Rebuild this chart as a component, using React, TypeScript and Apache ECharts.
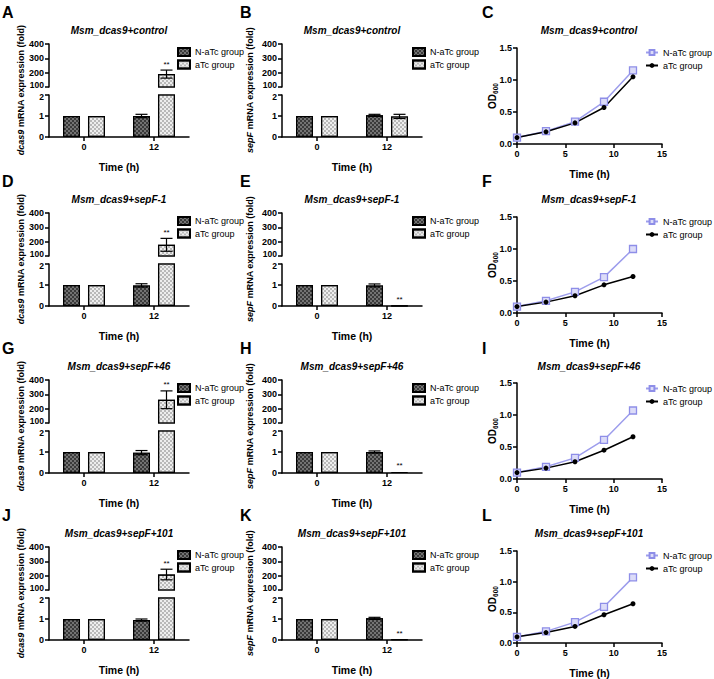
import React, { useEffect, useRef } from 'react';
import * as echarts from 'echarts';

const FONT = '"Liberation Sans", Arial, Helvetica, sans-serif';

const panelLetters = ['A', 'B', 'C', 'D', 'E', 'F', 'G', 'H', 'I', 'J', 'K', 'L'];
const strainTitles = ['Msm_dcas9+control', 'Msm_dcas9+sepF-1', 'Msm_dcas9+sepF+46', 'Msm_dcas9+sepF+101'];
const barCategories = ['0', '12'];
const groupNames = ['N-aTc group', 'aTc group'];
const geneNames = ['dcas9', 'sepF'];

// dcas9 mRNA expression (fold): [t=0, t=12] per strain
const dcas9NaTc = [[1, 1.0], [1, 0.98], [1, 0.97], [1, 0.95]];
const dcas9NaTcSd = [[0, 0.08], [0, 0.08], [0, 0.1], [0, 0.05]];
const dcas9ATc = [[1, 190], [1, 178], [1, 262], [1, 208]];
const dcas9ATcSd = [[0, 28], [0, 45], [0, 62], [0, 37]];
const dcas9Sig = [[false, true], [false, true], [false, true], [false, true]];

// sepF mRNA expression (fold)
const sepFNaTc = [[1, 1.03], [1, 0.98], [1, 1.0], [1, 1.03]];
const sepFNaTcSd = [[0, 0.05], [0, 0.07], [0, 0.05], [0, 0.05]];
const sepFATc = [[1, 0.98], [1, 0.02], [1, 0.05], [1, 0.03]];
const sepFATcSd = [[0, 0.1], [0, 0], [0, 0], [0, 0]];
const sepFSig = [[false, false], [false, true], [false, true], [false, true]];

// OD600 growth curves
const odTimes = [0, 3, 6, 9, 12];
const odNaTc = [
  [0.1, 0.2, 0.35, 0.66, 1.15],
  [0.1, 0.19, 0.33, 0.56, 1.0],
  [0.1, 0.19, 0.33, 0.61, 1.07],
  [0.1, 0.19, 0.34, 0.59, 1.07],
];
const odATc = [
  [0.1, 0.19, 0.33, 0.57, 1.05],
  [0.1, 0.17, 0.27, 0.44, 0.57],
  [0.1, 0.17, 0.27, 0.45, 0.66],
  [0.1, 0.17, 0.27, 0.46, 0.64],
];

const upperTicks = { min: 100, max: 400, interval: 100 };
const lowerTicks = { min: 0, max: 2, interval: 1 };
const odXTicks = { min: 0, max: 15, interval: 5 };
const odYTicks = { min: 0, max: 1.5, interval: 0.5 };

function buildOption() {
  const rowOff = [0, 169, 336, 503];
  const barCols = [49, 282];
  const lineLeft = 517;
  const BAR_W = 17;
  const BAR_OFF = 12.5;

  const grid: any[] = [];
  const xAxis: any[] = [];
  const yAxis: any[] = [];
  const series: any[] = [];
  const legend: any[] = [];
  const graphic: any[] = [];

  const axisLine = { show: true, lineStyle: { color: '#000', width: 1.5 } };
  const axisTick = { show: true, length: 4, lineStyle: { color: '#000', width: 1.5 } };
  const axisLabel = { color: '#000', fontSize: 9, fontWeight: 'bold', fontFamily: FONT, margin: 5 };
  const nameStyle = { color: '#000', fontSize: 10.5, fontWeight: 'bold', fontFamily: FONT };
  const tickRich = {
    up: { color: '#000', fontSize: 8.5, fontWeight: 'bold', fontFamily: FONT, padding: [0, 0, 4, 0] },
    dn: { color: '#000', fontSize: 8.5, fontWeight: 'bold', fontFamily: FONT, padding: [4, 0, 0, 0] },
  };

  const barStyles = [
    {
      color: '#3a3a3a', borderColor: '#000', borderWidth: 1.2,
      decal: { symbol: 'rect', symbolSize: 1, color: 'rgba(140,140,140,0.7)', dashArrayX: [[2, 2], [0, 2, 2, 0]], dashArrayY: [2, 0], rotation: 0 },
    },
    {
      color: '#eeeeee', borderColor: '#000', borderWidth: 1.2,
      decal: { symbol: 'rect', symbolSize: 1, color: 'rgba(150,150,150,0.6)', dashArrayX: [[2, 2], [0, 2, 2, 0]], dashArrayY: [2, 0], rotation: 0 },
    },
  ];

  const errRender = (params: any, api: any) => {
    const cat = api.value(0);
    const mean = api.value(1);
    const sd = api.value(2);
    const g = api.value(3);
    const sig = api.value(4);
    const off = g === 0 ? -BAR_OFF : BAR_OFF;
    const top = api.coord([cat, mean + sd]);
    const bot = api.coord([cat, mean - sd]);
    const x = top[0] + off;
    const children: any[] = [];
    const ls = { stroke: '#000', lineWidth: 1.2 };
    if (sd > 0) {
      children.push({ type: 'line', shape: { x1: x, y1: top[1], x2: x, y2: bot[1] }, style: ls });
      children.push({ type: 'line', shape: { x1: x - 6, y1: top[1], x2: x + 6, y2: top[1] }, style: ls });
      children.push({ type: 'line', shape: { x1: x - 6, y1: bot[1], x2: x + 6, y2: bot[1] }, style: ls });
    }
    if (sig) {
      children.push({
        type: 'text',
        style: { text: '**', x, y: top[1] - 2, align: 'center', verticalAlign: 'bottom', fontSize: 8, fontFamily: FONT, fill: '#000' },
      });
    }
    return { type: 'group', children };
  };

  for (let r = 0; r < 4; r++) {
    const off = rowOff[r];
    for (let c = 0; c < 2; c++) {
      const left = barCols[c];
      const means = c === 0 ? [dcas9NaTc[r], dcas9ATc[r]] : [sepFNaTc[r], sepFATc[r]];
      const sds = c === 0 ? [dcas9NaTcSd[r], dcas9ATcSd[r]] : [sepFNaTcSd[r], sepFATcSd[r]];
      const sig = c === 0 ? dcas9Sig[r] : sepFSig[r];

      const gU = grid.length;
      grid.push({ left, top: off + 44, width: 140, height: 43 });
      const gL = grid.length;
      grid.push({ left, top: off + 95, width: 140, height: 42 });

      xAxis.push({ type: 'category', gridIndex: gU, data: barCategories, show: false });
      xAxis.push({
        type: 'category', gridIndex: gL, data: barCategories,
        axisLine, axisTick: { ...axisTick, alignWithLabel: true }, axisLabel,
        name: 'Time (h)', nameLocation: 'middle', nameGap: 24, nameTextStyle: nameStyle,
      });
      yAxis.push({
        type: 'value', gridIndex: gU, ...upperTicks,
        axisLine, axisTick,
        axisLabel: { ...axisLabel, formatter: (v: number) => (v === upperTicks.min ? '{up|' + v + '}' : String(v)), rich: tickRich },
        splitLine: { show: false },
      });
      yAxis.push({
        type: 'value', gridIndex: gL, ...lowerTicks,
        axisLine, axisTick,
        axisLabel: { ...axisLabel, formatter: (v: number) => (v === lowerTicks.max ? '{dn|' + v + '}' : String(v)), rich: tickRich },
        splitLine: { show: false },
      });

      for (let g = 0; g < 2; g++) {
        series.push({
          type: 'bar', name: groupNames[g], xAxisIndex: gU, yAxisIndex: gU,
          data: means[g].map((v) => (v > lowerTicks.max ? v : '-')),
          barWidth: BAR_W, barGap: '47%', itemStyle: barStyles[g], clip: true, silent: true,
        });
        series.push({
          type: 'bar', name: groupNames[g], xAxisIndex: gL, yAxisIndex: gL,
          data: means[g], barWidth: BAR_W, barGap: '47%', itemStyle: barStyles[g], clip: true, silent: true,
        });
      }

      const errU: any[] = [];
      const errL: any[] = [];
      for (let g = 0; g < 2; g++) {
        for (let k = 0; k < 2; k++) {
          const item = [k, means[g][k], sds[g][k], g, sig[k] && g === 1 ? 1 : 0];
          if (means[g][k] > lowerTicks.max) errU.push(item);
          else errL.push(item);
        }
      }
      series.push({ type: 'custom', xAxisIndex: gU, yAxisIndex: gU, data: errU, renderItem: errRender, z: 5, silent: true, encode: { x: 0, y: 1 } });
      series.push({ type: 'custom', xAxisIndex: gL, yAxisIndex: gL, data: errL, renderItem: errRender, z: 5, silent: true, encode: { x: 0, y: 1 } });

      legend.push({
        left: left + 128 + (c === 1 ? 2 : 0), top: off + 47, orient: 'vertical', icon: 'rect',
        itemWidth: 12, itemHeight: 8, itemGap: 2.5, padding: 0, selectedMode: false,
        data: groupNames,
        textStyle: { fontSize: 9, fontFamily: FONT, color: '#000' },
      });

      const idx = r * 3 + c;
      graphic.push({
        type: 'text', x: c === 0 ? 2 : 240, y: off + 12,
        style: { text: panelLetters[idx], fontSize: 16, fontWeight: 'bold', fontFamily: FONT, fill: '#000', verticalAlign: 'middle' },
      });
      graphic.push({
        type: 'text', x: left + 70, y: off + 30,
        style: { text: strainTitles[r], fontSize: 10, fontWeight: 'bold', fontStyle: 'italic', fontFamily: FONT, fill: '#000', align: 'center', verticalAlign: 'middle' },
      });
      graphic.push({
        type: 'text', x: c === 0 ? 21 : 250, y: off + 90, rotation: Math.PI / 2,
        style: {
          text: '{i|' + geneNames[c] + '}{b| mRNA expression (fold)}',
          align: 'center', verticalAlign: 'middle', fill: '#000',
          fontSize: 9, fontWeight: 'bold', fontFamily: FONT,
          rich: {
            i: { fontSize: 9, fontWeight: 'bold', fontStyle: 'italic', fontFamily: FONT, fill: '#000' },
            b: { fontSize: 9, fontWeight: 'bold', fontFamily: FONT, fill: '#000' },
          },
        },
      });
    }

    // growth curve panel
    const gi = grid.length;
    const lTop = off + 48 + (r === 2 ? -1 : 0);
    grid.push({ left: lineLeft, top: lTop, width: 145, height: 96 });
    xAxis.push({
      type: 'value', gridIndex: gi, ...odXTicks,
      axisLine, axisTick, axisLabel, splitLine: { show: false },
      name: 'Time (h)', nameLocation: 'middle', nameGap: 24, nameTextStyle: nameStyle,
    });
    yAxis.push({
      type: 'value', gridIndex: gi, ...odYTicks,
      axisLine, axisTick, axisLabel: { ...axisLabel, formatter: (v: number) => v.toFixed(1) }, splitLine: { show: false },
    });
    series.push({
      type: 'line', name: 'odN', xAxisIndex: gi, yAxisIndex: gi, silent: true,
      data: odTimes.map((t, i) => [t, odNaTc[r][i]]),
      symbol: 'rect', symbolSize: 7,
      itemStyle: { color: '#dcdcf8', borderColor: '#8e8ee8', borderWidth: 1.3 },
      lineStyle: { color: '#9d9dec', width: 1.5 },
    });
    series.push({
      type: 'line', name: 'odA', xAxisIndex: gi, yAxisIndex: gi, silent: true,
      data: odTimes.map((t, i) => [t, odATc[r][i]]),
      symbol: 'circle', symbolSize: 5,
      itemStyle: { color: '#000' },
      lineStyle: { color: '#000', width: 1.5 },
    });
    legend.push({
      left: 645, top: off + 48, orient: 'vertical',
      itemWidth: 12, itemHeight: 6, itemGap: 4, padding: 0, selectedMode: false,
      data: ['odN', 'odA'],
      formatter: (n: string) => (n === 'odN' ? groupNames[0] : groupNames[1]),
      textStyle: { fontSize: 9, fontFamily: FONT, color: '#000' },
    });
    graphic.push({
      type: 'text', x: 482, y: off + 12,
      style: { text: panelLetters[r * 3 + 2], fontSize: 16, fontWeight: 'bold', fontFamily: FONT, fill: '#000', verticalAlign: 'middle' },
    });
    graphic.push({
      type: 'text', x: lineLeft + 72, y: off + 30,
      style: { text: strainTitles[r], fontSize: 10, fontWeight: 'bold', fontStyle: 'italic', fontFamily: FONT, fill: '#000', align: 'center', verticalAlign: 'middle' },
    });
    graphic.push({
      type: 'text', x: 492, y: lTop + 48, rotation: Math.PI / 2,
      style: {
        text: '{b|OD}{s|600}', align: 'center', verticalAlign: 'middle', fill: '#000',
        rich: {
          b: { fontSize: 10, fontWeight: 'bold', fontFamily: FONT, fill: '#000', verticalAlign: 'bottom' },
          s: { fontSize: 6.5, fontWeight: 'bold', fontFamily: FONT, fill: '#000', verticalAlign: 'bottom', padding: [0, 0, -2, 0] },
        },
      },
    });
  }

  return {
    animation: false,
    backgroundColor: '#ffffff',
    grid, xAxis, yAxis, series, legend, graphic,
  };
}

export default function App() {
  const ref = useRef<HTMLDivElement>(null);
  useEffect(() => {
    document.body.style.margin = '0';
    if (!ref.current) return;
    const chart = echarts.init(ref.current, undefined, { renderer: 'svg' });
    chart.setOption(buildOption() as any);
    return () => chart.dispose();
  }, []);
  return <div ref={ref} style={{ width: 714, height: 679 }} />;
}
